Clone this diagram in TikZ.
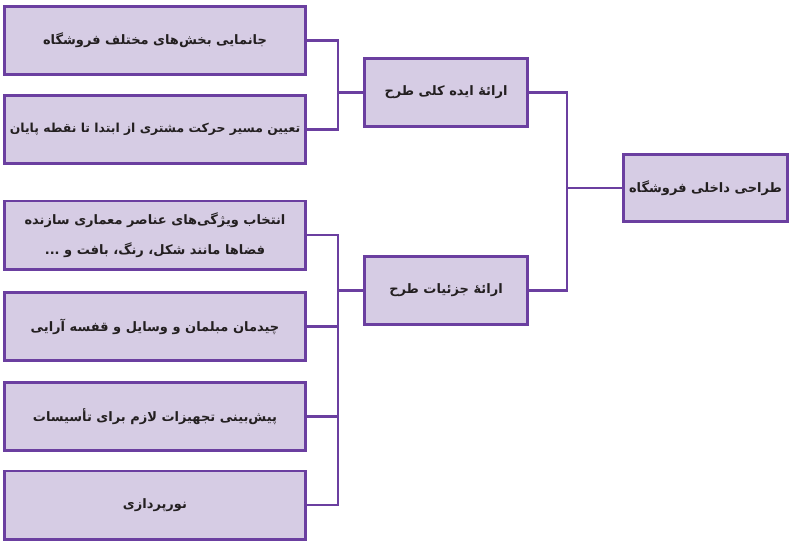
\documentclass[tikz,border=0pt]{standalone}
\usepackage{fontspec}
\TeXXeTstate=1
\newfontfamily\fa[Script=Arabic]{DejaVu Sans}
\newcommand{\rl}[1]{\beginR #1\endR}
\definecolor{boxfill}{HTML}{D6CCE4}
\definecolor{boxline}{HTML}{6B3FA0}
\definecolor{txt}{HTML}{231F20}
\tikzset{
  box/.style={draw=boxline, line width=2.8pt, fill=boxfill, inner sep=0pt,
    align=center, text=txt, font=\fa\bfseries\fontsize{13}{30}\selectfont},
  leafbox/.style={box, minimum width=301.2pt, minimum height=68.2pt},
  midbox/.style={box, minimum width=163.2pt, minimum height=68.2pt},
  topbox/.style={box, minimum width=164.2pt, minimum height=67.2pt},
  link/.style={draw=boxline, line width=2.2pt}
}
\begin{document}
\begin{tikzpicture}[x=1pt,y=-1pt]
\useasboundingbox (0,0) rectangle (793,544);
\node[leafbox] (l1) at (155,40.5) {\rl{جانمایی بخش‌های مختلف فروشگاه}};
\node[leafbox, font=\fa\bfseries\fontsize{12.4}{30}\selectfont] (l2) at (155,129.5) {\rl{تعیین مسیر حرکت مشتری از ابتدا تا نقطه پایان}};
\node[leafbox] (l3) at (155,235) {\rl{انتخاب ویژگی‌های عناصر معماری سازنده}\\\rl{فضاها مانند شکل، رنگ، بافت و ...}};
\node[leafbox] (l4) at (155,326.5) {\rl{چیدمان مبلمان و وسایل و قفسه آرایی}};
\node[leafbox] (l5) at (155,416.5) {\rl{پیش‌بینی تجهیزات لازم برای تأسیسات}};
\node[leafbox] (l6) at (155,505) {\rl{نورپردازی}};
\node[midbox] (m1) at (446,92.5) {\rl{ارائهٔ ایده کلی طرح}};
\node[midbox] (m2) at (446,290.5) {\rl{ارائهٔ جزئیات طرح}};
\node[topbox] (t) at (705.5,188) {\rl{طراحی داخلی فروشگاه}};
\coordinate (busL) at (338,0);
\coordinate (busR) at (567,0);
\draw[link] (l1.east) -- (l1.east -| busL) -- (l2.east -| busL) -- (l2.east);
\draw[link] (m1.west) -- (m1.west -| busL);
\draw[link] (l3.east) -- (l3.east -| busL) -- (l6.east -| busL) -- (l6.east);
\draw[link] (l4.east) -- (l4.east -| busL);
\draw[link] (l5.east) -- (l5.east -| busL);
\draw[link] (m2.west) -- (m2.west -| busL);
\draw[link] (m1.east) -- (m1.east -| busR) -- (m2.east -| busR) -- (m2.east);
\draw[link] (t.west) -- (t.west -| busR);
\end{tikzpicture}
\end{document}
